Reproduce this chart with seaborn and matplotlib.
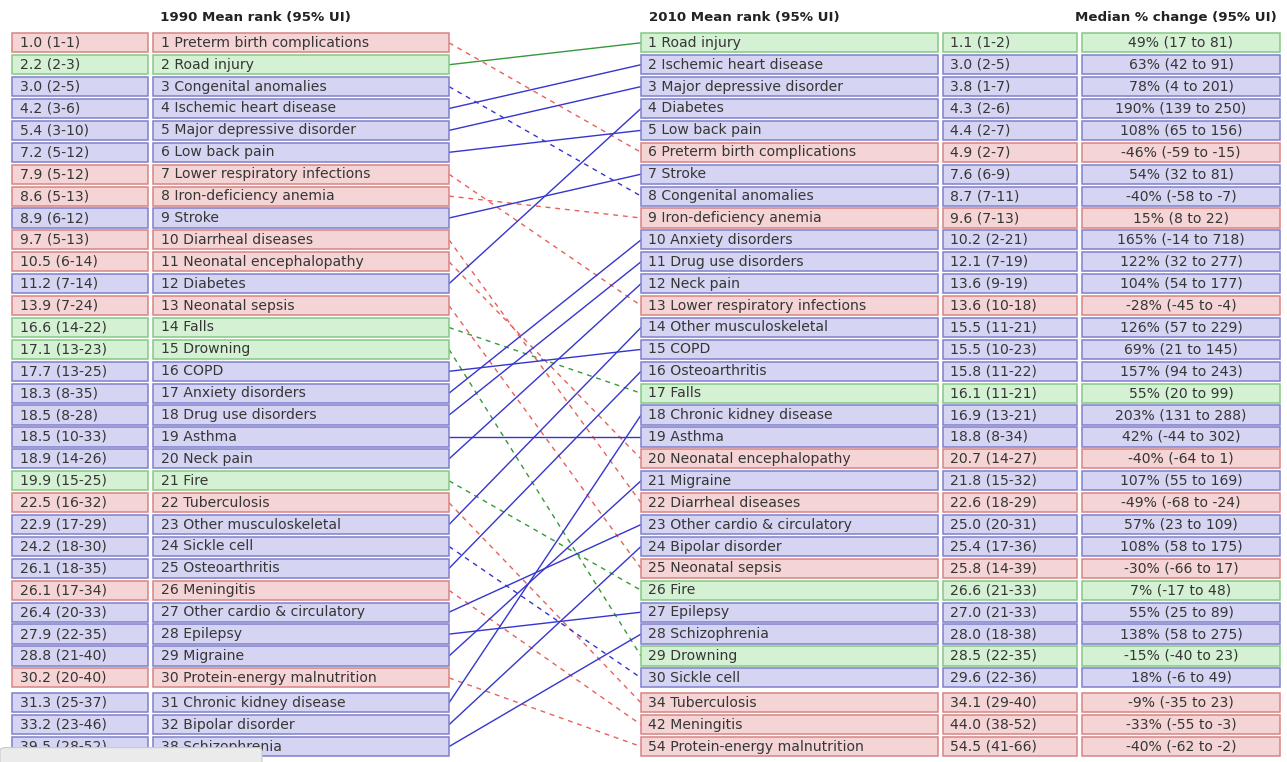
import matplotlib
matplotlib.use("Agg")
import matplotlib.pyplot as plt
from matplotlib.patches import FancyBboxPatch
import numpy as np
import pandas as pd
import seaborn as sns

# ---------------- data ----------------
causes_1990 = [
    "Preterm birth complications", "Road injury", "Congenital anomalies",
    "Ischemic heart disease", "Major depressive disorder", "Low back pain",
    "Lower respiratory infections", "Iron-deficiency anemia", "Stroke",
    "Diarrheal diseases", "Neonatal encephalopathy", "Diabetes",
    "Neonatal sepsis", "Falls", "Drowning", "COPD", "Anxiety disorders",
    "Drug use disorders", "Asthma", "Neck pain", "Fire", "Tuberculosis",
    "Other musculoskeletal", "Sickle cell", "Osteoarthritis", "Meningitis",
    "Other cardio & circulatory", "Epilepsy", "Migraine",
    "Protein-energy malnutrition", "Chronic kidney disease",
    "Bipolar disorder", "Schizophrenia",
]
rank_1990 = list(range(1, 31)) + [31, 32, 38]
mean_ui_1990 = [
    "1.0 (1-1)", "2.2 (2-3)", "3.0 (2-5)", "4.2 (3-6)", "5.4 (3-10)",
    "7.2 (5-12)", "7.9 (5-12)", "8.6 (5-13)", "8.9 (6-12)", "9.7 (5-13)",
    "10.5 (6-14)", "11.2 (7-14)", "13.9 (7-24)", "16.6 (14-22)",
    "17.1 (13-23)", "17.7 (13-25)", "18.3 (8-35)", "18.5 (8-28)",
    "18.5 (10-33)", "18.9 (14-26)", "19.9 (15-25)", "22.5 (16-32)",
    "22.9 (17-29)", "24.2 (18-30)", "26.1 (18-35)", "26.1 (17-34)",
    "26.4 (20-33)", "27.9 (22-35)", "28.8 (21-40)", "30.2 (20-40)",
    "31.3 (25-37)", "33.2 (23-46)", "39.5 (28-52)",
]
group_1990 = [
    "C", "I", "N", "N", "N", "N", "C", "C", "N", "C", "C", "N", "C", "I",
    "I", "N", "N", "N", "N", "N", "I", "C", "N", "N", "N", "C", "N", "N",
    "N", "C", "N", "N", "N",
]

causes_2010 = [
    "Road injury", "Ischemic heart disease", "Major depressive disorder",
    "Diabetes", "Low back pain", "Preterm birth complications", "Stroke",
    "Congenital anomalies", "Iron-deficiency anemia", "Anxiety disorders",
    "Drug use disorders", "Neck pain", "Lower respiratory infections",
    "Other musculoskeletal", "COPD", "Osteoarthritis", "Falls",
    "Chronic kidney disease", "Asthma", "Neonatal encephalopathy",
    "Migraine", "Diarrheal diseases", "Other cardio & circulatory",
    "Bipolar disorder", "Neonatal sepsis", "Fire", "Epilepsy",
    "Schizophrenia", "Drowning", "Sickle cell", "Tuberculosis",
    "Meningitis", "Protein-energy malnutrition",
]
rank_2010 = list(range(1, 31)) + [34, 42, 54]
mean_ui_2010 = [
    "1.1 (1-2)", "3.0 (2-5)", "3.8 (1-7)", "4.3 (2-6)", "4.4 (2-7)",
    "4.9 (2-7)", "7.6 (6-9)", "8.7 (7-11)", "9.6 (7-13)", "10.2 (2-21)",
    "12.1 (7-19)", "13.6 (9-19)", "13.6 (10-18)", "15.5 (11-21)",
    "15.5 (10-23)", "15.8 (11-22)", "16.1 (11-21)", "16.9 (13-21)",
    "18.8 (8-34)", "20.7 (14-27)", "21.8 (15-32)", "22.6 (18-29)",
    "25.0 (20-31)", "25.4 (17-36)", "25.8 (14-39)", "26.6 (21-33)",
    "27.0 (21-33)", "28.0 (18-38)", "28.5 (22-35)", "29.6 (22-36)",
    "34.1 (29-40)", "44.0 (38-52)", "54.5 (41-66)",
]
change_2010 = [
    "49% (17 to 81)", "63% (42 to 91)", "78% (4 to 201)",
    "190% (139 to 250)", "108% (65 to 156)", "-46% (-59 to -15)",
    "54% (32 to 81)", "-40% (-58 to -7)", "15% (8 to 22)",
    "165% (-14 to 718)", "122% (32 to 277)", "104% (54 to 177)",
    "-28% (-45 to -4)", "126% (57 to 229)", "69% (21 to 145)",
    "157% (94 to 243)", "55% (20 to 99)", "203% (131 to 288)",
    "42% (-44 to 302)", "-40% (-64 to 1)", "107% (55 to 169)",
    "-49% (-68 to -24)", "57% (23 to 109)", "108% (58 to 175)",
    "-30% (-66 to 17)", "7% (-17 to 48)", "55% (25 to 89)",
    "138% (58 to 275)", "-15% (-40 to 23)", "18% (-6 to 49)",
    "-9% (-35 to 23)", "-33% (-55 to -3)", "-40% (-62 to -2)",
]
group_2010 = [
    "I", "N", "N", "N", "N", "C", "N", "N", "C", "N", "N", "N", "C", "N",
    "N", "N", "I", "N", "N", "C", "N", "C", "N", "N", "C", "I", "N", "N",
    "I", "N", "C", "C", "C",
]

headers = ["1990 Mean rank (95% UI)", "2010 Mean rank (95% UI)",
           "Median % change (95% UI)"]

# ---------------- styling ----------------
FACE = {"C": "#f5d4d5", "N": "#d5d5f3", "I": "#d4f1d4"}
EDGE = {"C": "#d98484", "N": "#7f7fcc", "I": "#86c886"}
LINE = {"C": "#e8615c", "N": "#3535cf", "I": "#38983a"}
TXT = "#363636"
FS = 10.1
HFS = 9.6

W, H = 1287, 762
PITCH, Y0 = 21.9, 42.8
GAP = 3.0 / PITCH
BOX_H = 19.2 / PITCH

# column layout (pixel x)
L_RANK = (12, 148)
L_NAME = (153, 449)
R_NAME = (641, 938)
R_RANK = (943, 1077)
R_CHG = (1082, 1280)


def slot(i):
    return i + (GAP if i >= 30 else 0)


sns.set_theme(style="white")
plt.rcParams["font.family"] = ["DejaVu Sans"]

fig = plt.figure(figsize=(W / 100, H / 100), dpi=100)
ax = fig.add_axes([0, 0, 1, 1])

# ---------------- connector lines ----------------
rows = []
for i, c in enumerate(causes_1990):
    j = causes_2010.index(c)
    trend = "up" if rank_2010[j] <= rank_1990[i] else "down"
    rows.append(dict(cause=c, x=L_NAME[1], y=slot(i), group=group_1990[i], trend=trend))
    rows.append(dict(cause=c, x=R_NAME[0], y=slot(j), group=group_1990[i], trend=trend))
links = pd.DataFrame(rows)

sns.lineplot(data=links, x="x", y="y", units="cause", estimator=None,
             hue="group", palette=LINE, style="trend",
             dashes={"up": "", "down": (3.5, 3.5)}, sort=False,
             legend=False, linewidth=1.0, ax=ax, zorder=1)


# ---------------- boxes ----------------
def boxes(col, groups):
    ys = [slot(i) for i in range(len(groups))]
    ax.barh(ys, width=col[1] - col[0], left=col[0], height=BOX_H,
            color=[FACE[g] for g in groups],
            edgecolor=[EDGE[g] for g in groups], linewidth=1.1, zorder=3)


boxes(L_RANK, group_1990)
boxes(L_NAME, group_1990)
boxes(R_NAME, group_2010)
boxes(R_RANK, group_2010)
boxes(R_CHG, group_2010)

for i in range(len(causes_1990)):
    y = slot(i)
    ax.text(L_RANK[0] + 8, y, mean_ui_1990[i], va="center", ha="left",
            fontsize=FS, color=TXT, zorder=4)
    ax.text(L_NAME[0] + 8, y, f"{rank_1990[i]} {causes_1990[i]}", va="center",
            ha="left", fontsize=FS, color=TXT, zorder=4)
for i in range(len(causes_2010)):
    y = slot(i)
    ax.text(R_NAME[0] + 7, y, f"{rank_2010[i]} {causes_2010[i]}", va="center",
            ha="left", fontsize=FS, color=TXT, zorder=4)
    ax.text(R_RANK[0] + 7, y, mean_ui_2010[i], va="center", ha="left",
            fontsize=FS, color=TXT, zorder=4)
    ax.text((R_CHG[0] + R_CHG[1]) / 2, y, change_2010[i], va="center",
            ha="center", fontsize=FS, color=TXT, zorder=4)

# headers
hy = (17 - Y0) / PITCH
ax.text(L_NAME[0] + 7, hy, headers[0], ha="left", va="center", fontsize=HFS,
        fontweight="bold", color="#222222")
ax.text(R_NAME[0] + 8, hy, headers[1], ha="left", va="center", fontsize=HFS,
        fontweight="bold", color="#222222")
ax.text(R_CHG[1] - 3, hy, headers[2], ha="right", va="center", fontsize=HFS,
        fontweight="bold", color="#222222")

ax.set_xlim(0, W)
ax.set_ylim((H - Y0) / PITCH, -Y0 / PITCH)
ax.axis("off")

# browser tab remnant at bottom-left
fig.add_artist(FancyBboxPatch((0.0, -0.01), 262 / W, 22 / H,
                              boxstyle="round,pad=0,rounding_size=0.004",
                              transform=fig.transFigure, fc="#ebebeb",
                              ec="#c9c9c9", lw=0.8, zorder=10))

fig.savefig("out.png", dpi=100, facecolor="white")
